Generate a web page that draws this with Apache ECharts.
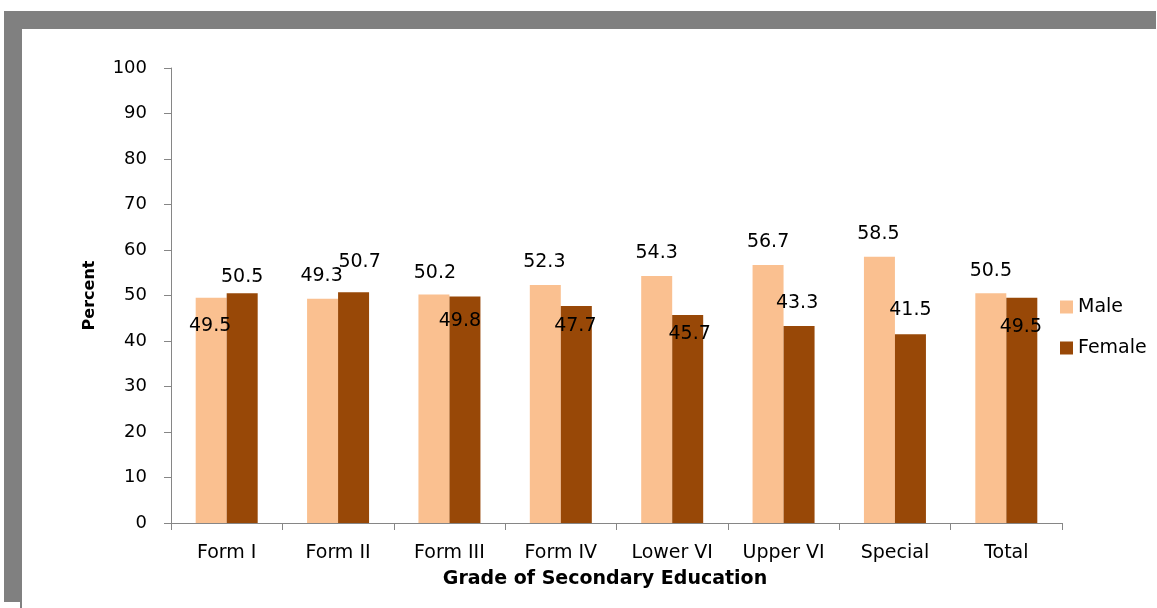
<!DOCTYPE html>
<html>
<head>
<meta charset="utf-8">
<script src="https://cdn.jsdelivr.net/npm/echarts@6/dist/echarts.min.js"></script>
<style>
html,body{margin:0;padding:0;background:#fff;}
#chart{width:1157px;height:608px;}
</style>
</head>
<body>
<div id="chart"></div>
<script>
// ---- data ----
const categories = ['Form I', 'Form II', 'Form III', 'Form IV', 'Lower VI', 'Upper VI', 'Special', 'Total'];
const maleValues = [49.5, 49.3, 50.2, 52.3, 54.3, 56.7, 58.5, 50.5];
const femaleValues = [50.5, 50.7, 49.8, 47.7, 45.7, 43.3, 41.5, 49.5];
const seriesNames = ['Male', 'Female'];
const yTicks = [0, 10, 20, 30, 40, 50, 60, 70, 80, 90, 100];

// ---- label placement (offset of label centre from bar top centre) ----
const maleLabelOffsets = [[-1, 28], [-1, -23], [1, -22], [-1, -23], [0, -23], [0, -23], [-1, -23], [0, -22]];
const femaleLabelOffsets = [[0, -16], [6, -30], [-5, 25], [-1, 20], [2, 19], [-2, -23], [0, -24], [-1, 29]];

const FONT = 'DejaVu Sans';
const maleColor = '#FAC090';
const femaleColor = '#984807';
const axisColor = '#868686';

function buildData(values, offsets) {
  return values.map((v, i) => ({
    value: v,
    label: { offset: offsets[i] }
  }));
}

const labelBase = {
  show: true,
  position: 'top',
  distance: 0,
  verticalAlign: 'middle',
  align: 'center',
  color: '#000',
  fontFamily: FONT,
  fontSize: 19
};

const chart = echarts.init(document.getElementById('chart'), null, { renderer: 'canvas' });
chart.setOption({
  animation: false,
  backgroundColor: '#fff',
  graphic: [
    { type: 'rect', shape: { x: 4, y: 11, width: 1152, height: 18 }, style: { fill: '#808080' }, z: 100 },
    { type: 'rect', shape: { x: 4, y: 11, width: 18, height: 591 }, style: { fill: '#808080' }, z: 100 },
    { type: 'rect', shape: { x: 20, y: 602, width: 2, height: 6 }, style: { fill: '#808080' }, z: 100 }
  ],
  grid: { left: 171, top: 68, right: 95, bottom: 85, containLabel: false },
  legend: {
    orient: 'vertical',
    left: 1055,
    top: 292,
    itemWidth: 13,
    itemHeight: 13,
    itemGap: 21,
    icon: 'rect',
    data: seriesNames,
    textStyle: { fontFamily: FONT, fontSize: 19, color: '#000', lineHeight: 20 }
  },
  xAxis: {
    type: 'category',
    data: categories,
    name: 'Grade of Secondary Education',
    nameLocation: 'middle',
    nameGap: 47,
    nameTextStyle: { fontFamily: FONT, fontSize: 19, fontWeight: 'bold', color: '#000', padding: [0, 23, 0, 0] },
    axisLine: { show: true, lineStyle: { color: axisColor, width: 1 } },
    axisTick: { show: true, length: 7, alignWithLabel: false, lineStyle: { color: axisColor } },
    axisLabel: { fontFamily: FONT, fontSize: 19, color: '#000', margin: 21, interval: 0 },
    splitLine: { show: false }
  },
  yAxis: {
    type: 'value',
    min: yTicks[0],
    max: yTicks[yTicks.length - 1],
    interval: yTicks[1] - yTicks[0],
    name: 'Percent',
    nameLocation: 'middle',
    nameRotate: 90,
    nameGap: 73,
    nameTextStyle: { fontFamily: FONT, fontSize: 16, fontWeight: 'bold', color: '#000' },
    axisLine: { show: true, lineStyle: { color: axisColor, width: 1 } },
    axisTick: { show: true, length: 7, lineStyle: { color: axisColor } },
    axisLabel: { fontFamily: FONT, fontSize: 18, color: '#000', margin: 24 },
    splitLine: { show: false }
  },
  series: [
    {
      name: seriesNames[0],
      type: 'bar',
      barWidth: 31,
      barGap: '0%',
      itemStyle: { color: maleColor },
      label: labelBase,
      data: buildData(maleValues, maleLabelOffsets),
      z: 2
    },
    {
      name: seriesNames[1],
      type: 'bar',
      barWidth: 31,
      barGap: '0%',
      itemStyle: { color: femaleColor },
      label: labelBase,
      data: buildData(femaleValues, femaleLabelOffsets),
      z: 2
    }
  ]
});
</script>
</body>
</html>
